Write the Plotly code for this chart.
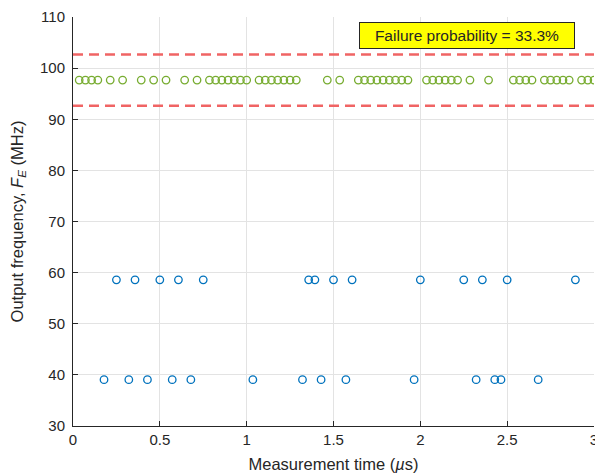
import plotly.graph_objects as go

# Measurement times (µs) for each class of output frequency
t_green = [0.0357, 0.0714, 0.1071, 0.1429, 0.2143, 0.2857, 0.3929, 0.4643, 0.5357,
           0.6429, 0.7143, 0.7857, 0.8214, 0.8571, 0.8929, 0.9286, 0.9643, 1.0,
           1.0714, 1.1071, 1.1429, 1.1786, 1.2143, 1.25, 1.2857, 1.4643, 1.5357,
           1.6429, 1.6786, 1.7143, 1.75, 1.7857, 1.8214, 1.8571, 1.8929, 1.9286,
           2.0357, 2.0714, 2.1071, 2.1429, 2.1786, 2.2143, 2.2857, 2.3929,
           2.5357, 2.5714, 2.6071, 2.6429, 2.7143, 2.75, 2.7857, 2.8214, 2.8571,
           2.9286, 2.9643, 3.0]
f_green = 97.66

t_blue_hi = [0.25, 0.3571, 0.5, 0.6071, 0.75, 1.3571, 1.3929, 1.5, 1.6071, 2.0,
             2.25, 2.3571, 2.5, 2.8929]
f_blue_hi = 58.59

t_blue_lo = [0.1786, 0.3214, 0.4286, 0.5714, 0.6786, 1.0357, 1.3214, 1.4286,
             1.5714, 1.9643, 2.3214, 2.4286, 2.4643, 2.6786]
f_blue_lo = 39.06

limit_hi = 102.66
limit_lo = 92.66
x_range = [0, 3]
y_range = [30, 110]
x_ticks = [0, 0.5, 1, 1.5, 2, 2.5, 3]
x_ticktext = ["0", "0.5", "1", "1.5", "2", "2.5", "3"]
y_ticks = [30, 40, 50, 60, 70, 80, 90, 100, 110]
failure_text = "Failure probability = 33.3%"

green = "#77AC30"
blue = "#0072BD"
red = "#F06464"
ink = "#262626"
FONT = "Liberation Sans, Arial"

fig = go.Figure()
for y in (limit_hi, limit_lo):
    fig.add_trace(go.Scatter(x=x_range, y=[y, y], mode="lines",
                             line=dict(color=red, width=2.5, dash="10px,6px"),
                             showlegend=False, hoverinfo="skip"))

for xs, yv, col in ((t_green, f_green, green),
                    (t_blue_hi, f_blue_hi, blue),
                    (t_blue_lo, f_blue_lo, blue)):
    fig.add_trace(go.Scatter(x=xs, y=[yv] * len(xs), mode="markers",
                             marker=dict(symbol="circle-open", size=7.5, color=col,
                                         line=dict(width=1.3, color=col)),
                             showlegend=False))

axis_common = dict(showgrid=True, gridcolor="#E3E3E3", gridwidth=1,
                   showline=True, linecolor=ink, linewidth=1,
                   ticks="inside", ticklen=5, tickcolor=ink,
                   tickfont=dict(family=FONT, size=15, color=ink),
                   zeroline=False, mirror=False, ticklabeloverflow="allow",
                   automargin=False)

fig.update_layout(
    width=595, height=476,
    margin=dict(l=73, r=1, t=17, b=50),
    paper_bgcolor="white", plot_bgcolor="white",
    font=dict(family=FONT, color=ink),
    xaxis=dict(range=x_range, tickvals=x_ticks, ticktext=x_ticktext,
               title=dict(text="Measurement time (<i>µ</i>s)", font=dict(size=16.5, color=ink),
                          standoff=11),
               **axis_common),
    yaxis=dict(range=y_range, tickvals=y_ticks, ticklabelstandoff=4,
               title=dict(text="Output frequency, <i>F</i><sub><i>E</i></sub> (MHz)",
                          font=dict(size=16.5, color=ink), standoff=12),
               **axis_common),
    annotations=[dict(text=failure_text, xref="paper", yref="paper",
                      x=0.757, y=0.955, xanchor="center", yanchor="middle",
                      showarrow=False, bgcolor="#FFFF00", bordercolor=ink,
                      borderwidth=1, width=212, height=23, borderpad=1,
                      font=dict(size=15.5, color=ink, family=FONT))],
)

fig.write_html("out.html")
